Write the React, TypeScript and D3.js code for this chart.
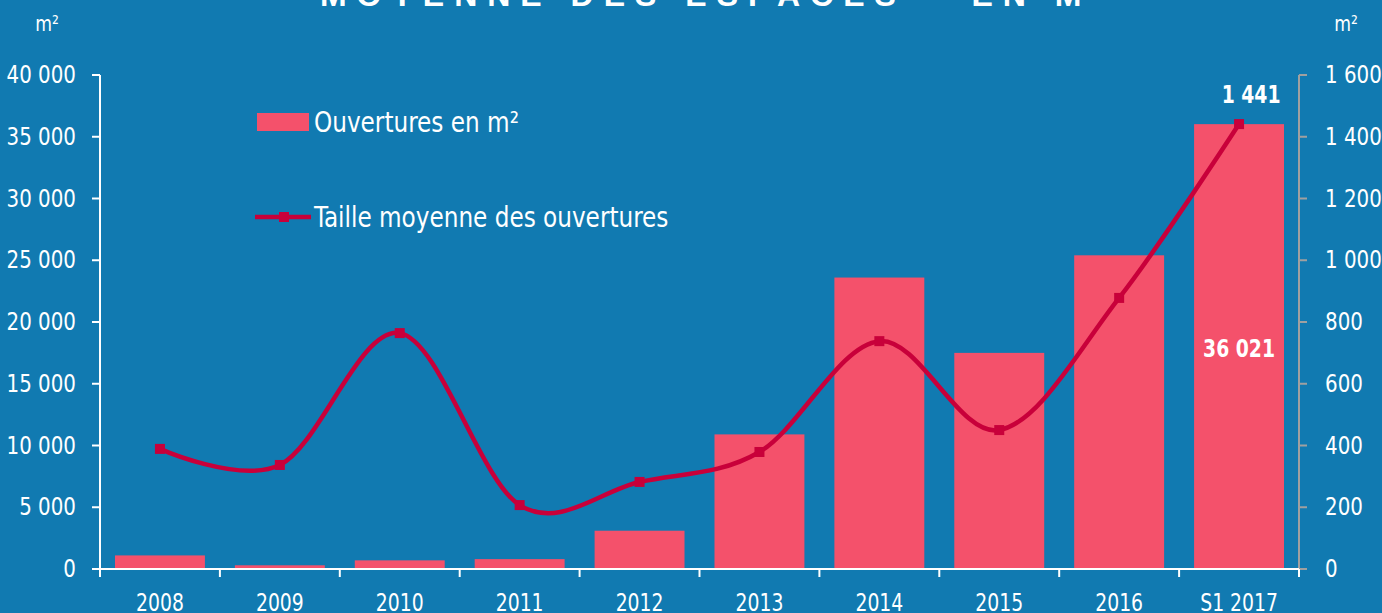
import React, { useEffect, useRef } from 'react'
import * as d3 from 'd3'

const categories = ['2008', '2009', '2010', '2011', '2012', '2013', '2014', '2015', '2016', 'S1 2017']
const ouvertures = [1100, 300, 700, 800, 3100, 10900, 23600, 17500, 25400, 36021]
const tailleMoyenne = [389, 337, 764, 207, 282, 379, 738, 450, 878, 1441]
const leftTicks = [0, 5000, 10000, 15000, 20000, 25000, 30000, 35000, 40000]
const rightTicks = [0, 200, 400, 600, 800, 1000, 1200, 1400, 1600]

const W = 1382
const H = 613
const BG = '#117ab1'
const BAR = '#f4516b'
const LINE = '#c8003a'
const FONT = '"Liberation Sans Narrow", "DejaVu Sans Condensed", sans-serif'
const SX = 0.87 // squeeze the text a bit, the original font is very narrow

const fmt = (v: number) => d3.format(',')(v).replace(/,/g, ' ')

const App: React.FC = () => {
    const svgRef = useRef<SVGSVGElement>(null)

    useEffect(() => {
        if (!svgRef.current) return
        const svg = d3.select(svgRef.current)
        svg.selectAll('*').remove()

        const left = 100, right = 1299, top = 75, bottom = 569

        const x = d3.scaleBand<string>().domain(categories).range([left, right]).paddingInner(0.25).paddingOuter(0.125)
        const yL = d3.scaleLinear().domain([0, 40000]).range([bottom, top])
        const yR = d3.scaleLinear().domain([0, 1600]).range([bottom, top])

        svg.append('rect').attr('width', W).attr('height', H).attr('fill', BG)

        const txt = (g: any, tx: number, ty: number, s: string, size: number, anchor: string, weight = 'normal', sx = SX) =>
            g.append('text')
                .attr('transform', `translate(${tx},${ty}) scale(${sx},1)`)
                .attr('text-anchor', anchor)
                .style('font-family', FONT)
                .style('font-size', `${size}px`)
                .style('font-weight', weight)
                .style('fill', '#fff')
                .text(s)

        // title, mostly cut off at the top
        svg.append('text')
            .attr('x', 716).attr('y', 6)
            .attr('text-anchor', 'middle')
            .style('font-family', '"Liberation Sans", Arial, sans-serif')
            .style('font-size', '32px')
            .style('font-weight', 'bold')
            .style('letter-spacing', '10px')
            .style('fill', '#fff')
            .text('MOYENNE DES ESPACES – EN M²')

        // bars
        svg.selectAll('rect.bar')
            .data(ouvertures)
            .enter().append('rect')
            .attr('class', 'bar')
            .attr('x', (d, i) => x(categories[i])!)
            .attr('width', x.bandwidth())
            .attr('y', d => yL(d))
            .attr('height', d => bottom - yL(d))
            .attr('fill', BAR)

        // left axis
        const gl = svg.append('g')
        gl.append('line').attr('x1', left).attr('x2', left).attr('y1', top).attr('y2', bottom + 8)
            .attr('stroke', '#fff').attr('stroke-width', 2)
        leftTicks.forEach(t => {
            gl.append('line').attr('x1', left - 8).attr('x2', left).attr('y1', yL(t)).attr('y2', yL(t))
                .attr('stroke', '#fff').attr('stroke-width', 2)
            txt(gl, 76, yL(t) + 8, fmt(t), 24, 'end', 'normal', 0.92)
        })
        txt(gl, 47, 31, 'm²', 22, 'middle')

        // right axis
        const gr = svg.append('g')
        gr.append('line').attr('x1', right).attr('x2', right).attr('y1', top).attr('y2', bottom)
            .attr('stroke', '#a0a0a0').attr('stroke-width', 2)
        rightTicks.forEach(t => {
            gr.append('line').attr('x1', right).attr('x2', right + 8).attr('y1', yR(t)).attr('y2', yR(t))
                .attr('stroke', '#a0a0a0').attr('stroke-width', 2)
            txt(gr, 1325, yR(t) + 8, fmt(t), 24, 'start', 'normal', 0.92)
        })
        txt(gr, 1346, 31, 'm²', 22, 'middle')

        // x axis
        const gx = svg.append('g')
        gx.append('line').attr('x1', left - 8).attr('x2', right).attr('y1', bottom).attr('y2', bottom)
            .attr('stroke', '#fff').attr('stroke-width', 2)
        const step = x.step()
        d3.range(categories.length + 1).forEach(i => {
            const xx = left + i * step
            gx.append('line').attr('x1', xx).attr('x2', xx).attr('y1', bottom).attr('y2', bottom + 8)
                .attr('stroke', '#fff').attr('stroke-width', 2)
        })
        categories.forEach(c => txt(gx, x(c)! + x.bandwidth() / 2, 611, c, 24, 'middle'))

        // line
        const pts: [number, number][] = tailleMoyenne.map((v, i) => [x(categories[i])! + x.bandwidth() / 2, yR(v)])
        svg.append('path')
            .attr('d', d3.line().curve(d3.curveCatmullRom.alpha(0))(pts))
            .attr('fill', 'none').attr('stroke', LINE).attr('stroke-width', 4.5)
        svg.selectAll('rect.mk')
            .data(pts)
            .enter().append('rect')
            .attr('class', 'mk')
            .attr('x', d => d[0] - 5).attr('y', d => d[1] - 5)
            .attr('width', 10).attr('height', 10)
            .attr('fill', LINE)

        // value labels
        const last = categories.length - 1
        txt(svg, pts[last][0] + 12, 103, fmt(tailleMoyenne[last]), 24, 'middle', 'bold')
        txt(svg, pts[last][0], 357, fmt(ouvertures[last]), 24, 'middle', 'bold')

        // legend
        svg.append('rect').attr('x', 257).attr('y', 113).attr('width', 52).attr('height', 18).attr('fill', BAR)
        txt(svg, 314, 132, 'Ouvertures en m²', 28, 'start', 'normal', 0.92)
        svg.append('line').attr('x1', 255).attr('x2', 311).attr('y1', 217).attr('y2', 217)
            .attr('stroke', LINE).attr('stroke-width', 4.5)
        svg.append('rect').attr('x', 279).attr('y', 212).attr('width', 10).attr('height', 10).attr('fill', LINE)
        txt(svg, 314, 227, 'Taille moyenne des ouvertures', 28, 'start', 'normal', 0.92)
    }, [])

    return <svg ref={svgRef} width={W} height={H} style={{ display: 'block', position: 'absolute', left: 0, top: 0 }} />
}

export default App
